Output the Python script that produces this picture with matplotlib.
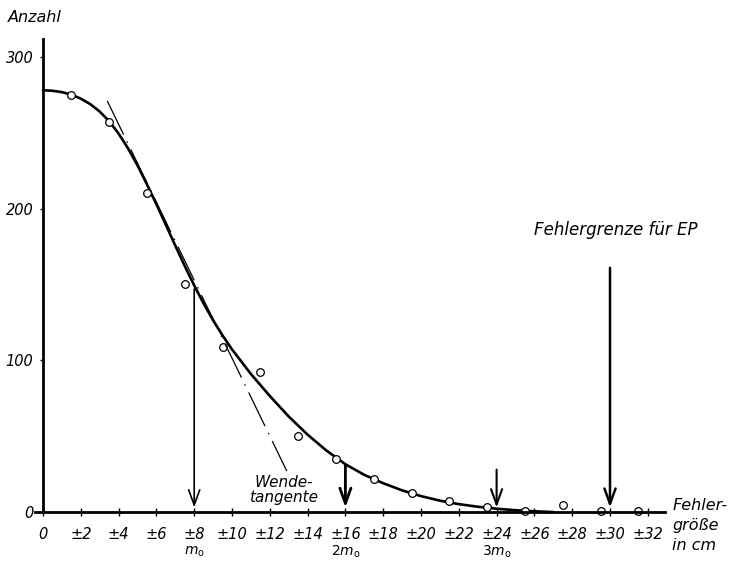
import matplotlib.pyplot as plt

# Kurve (Gauss-aehnlich)
curve_x = [0, 0.5, 1, 1.5, 2, 2.5, 3, 3.5, 4, 4.5, 5, 5.5, 6, 6.5, 7, 7.5, 8, 8.5,
           9, 9.5, 10, 11, 12, 13, 14, 15, 16, 17, 18, 19, 20, 21, 22, 23, 24,
           25, 26, 27]
curve_y = [278, 277.7, 276.8, 275.1, 272.5, 268.9, 264, 257.6, 249.5, 239.7,
           228.5, 216, 202.9, 189.3, 175.6, 162.2, 149.4, 137.4, 126.4, 116.4,
           107.2, 91, 76.5, 63, 51, 40.5, 31.5, 24.5, 19, 14.3, 10.5, 7.5, 5.2,
           3.5, 2.2, 1.2, 0.5, 0]

# beobachtete Haeufigkeiten
obs_x = [1.5, 3.5, 5.5, 7.5, 9.5, 11.5, 13.5, 15.5, 17.5, 19.5, 21.5, 23.5,
         25.5, 27.5, 29.5, 31.5]
obs_y = [275, 257, 210, 150, 109, 92, 50, 35, 22, 12.5, 7, 3, 0.7, 4.5, 0.7, 0.7]

# Wendetangente
tang_x = [3.4, 12.9]
tang_y = [271, 27]

# Pfeile
arrow_x = [8, 16, 24, 30]
arrow_top = [147, 31, 28, 161]
arrow_lw = [1.2, 2.0, 1.5, 1.8]

xticks = list(range(0, 33, 2))
xlabels = ['0'] + ['±%d' % t for t in xticks[1:]]
yticks = [0, 100, 200, 300]

plt.rcParams['font.family'] = ['DejaVu Sans']
plt.rcParams['mathtext.fontset'] = 'dejavusans'

fig = plt.figure(figsize=(7.3, 5.62), dpi=100)
ax = fig.add_axes([5.2 / 730, 0.0619, 718.2 / 730, 0.8908])
ax.set_xlim(-2, 36)
ax.set_ylim(-10, 320)

for s in ['top', 'right']:
    ax.spines[s].set_visible(False)
ax.spines['left'].set_position(('data', 0))
ax.spines['bottom'].set_position(('data', 0))
ax.spines['left'].set_bounds(0, 312)
ax.spines['bottom'].set_bounds(-0.4, 32.9)
ax.spines['left'].set_linewidth(2)
ax.spines['bottom'].set_linewidth(2)

ax.set_xticks(xticks, xlabels, fontstyle='italic', fontsize=10.5)
ax.set_yticks(yticks, [str(v) for v in yticks], fontstyle='italic', fontsize=10.5)
ax.tick_params(axis='x', direction='inout', length=6, width=1, pad=8)
ax.tick_params(axis='y', direction='out', length=2, width=1, pad=5)

ax.plot(curve_x, curve_y, color='black', lw=1.9, solid_capstyle='round')
ax.plot(obs_x, obs_y, 'o', ms=5.5, mfc='white', mec='black', mew=0.9)
ax.plot(tang_x, tang_y, color='black', lw=0.9, dashes=(30, 6, 1.2, 6))

for x, top, lw in zip(arrow_x, arrow_top, arrow_lw):
    ax.annotate('', xy=(x, 3), xytext=(x, top),
                arrowprops=dict(arrowstyle='->,head_length=0.55,head_width=0.2',
                                lw=lw, color='black', shrinkA=0, shrinkB=0,
                                mutation_scale=20))

for x, txt in zip([8, 16, 24], [r'$m_\mathrm{o}$', r'$2m_\mathrm{o}$', r'$3m_\mathrm{o}$']):
    ax.text(x, -26, txt, ha='center', va='center', fontsize=10, clip_on=False)

ax.text(12.75, 14.5, 'Wende-\ntangente', ha='center', va='center',
        fontsize=11, fontstyle='italic', linespacing=1.05)
ax.text(30.3, 186, 'Fehlergrenze für EP', ha='center', va='center',
        fontsize=12, fontstyle='italic')
ax.text(33.3, -9, 'Fehler-\ngröße\nin cm', ha='left', va='center',
        fontsize=11.5, fontstyle='italic', linespacing=1.4, clip_on=False)

fig.text(8 / 730, 1 - 18 / 562, 'Anzahl', ha='left', va='center',
         fontsize=11.5, fontstyle='italic')

fig.savefig('out.png', dpi=100)
